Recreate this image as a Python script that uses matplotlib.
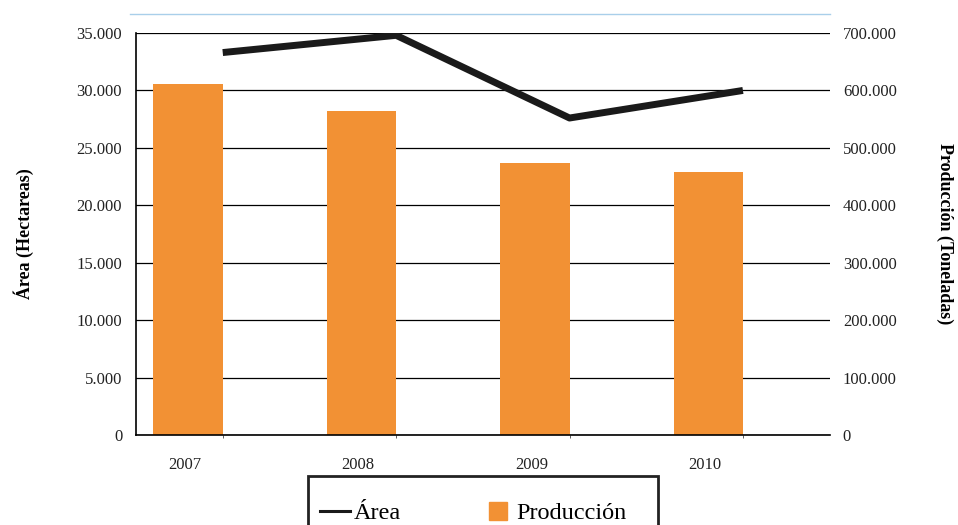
import matplotlib
matplotlib.use("Agg")
import matplotlib.pyplot as plt
from matplotlib.lines import Line2D
from matplotlib.patches import Rectangle
import numpy as np

anios = ["2007", "2008", "2009", "2010"]
area = [33300, 34800, 27600, 30000]            # hectareas (eje izq)
produccion = [611000, 564000, 474000, 458000]  # toneladas (eje der)

naranja = "#F29134"
serif = ["Liberation Serif", "DejaVu Serif"]
plt.rcParams["font.family"] = serif

fig = plt.figure(figsize=(9.58, 5.25), dpi=100)
ax = fig.add_axes([0.142, 0.1714, 0.724, 0.7657])
ax2 = ax.twinx()

x = np.arange(len(anios))

# barras en el eje derecho, por detras de todo
ax2.set_zorder(0)
ax.set_zorder(1)
ax.patch.set_visible(False)

for v in np.arange(0, 700001, 100000):
    ax2.axhline(v, color="black", lw=0.9, zorder=0)
ax2.bar(x, produccion, width=-0.40, align="edge", color=naranja, zorder=2)
ax2.set_ylim(0, 700000)
ax2.set_yticks(np.arange(0, 700001, 100000))
ax2.set_yticklabels(["0" if v == 0 else f"{v:,}".replace(",", ".") for v in np.arange(0, 700001, 100000)],
                    fontsize=12, color="#222222")
ax2.tick_params(axis="y", length=0, pad=9.5)

ax.plot(x, area, color="#1a1a1a", lw=5, solid_capstyle="butt", zorder=3)
ax.set_ylim(0, 35000)
ax.set_xlim(-0.5, 3.5)
ax.set_yticks(np.arange(0, 35001, 5000))
ax.set_yticklabels(["0" if v == 0 else f"{v:,}".replace(",", ".") for v in np.arange(0, 35001, 5000)],
                   fontsize=12, color="#222222")
ax.tick_params(axis="y", length=0, pad=10)

# pequenas marcas en los centros de categoria, etiquetas bajo las barras
ax.set_xticks(x)
ax.set_xticklabels([])
ax.tick_params(axis="x", length=2, width=0.6, direction="out", pad=0, color="#444444")
for xi, lab in zip(x, anios):
    ax.text(xi - 0.22, -0.055, lab, transform=ax.get_xaxis_transform(),
            ha="center", va="top", fontsize=12, color="#222222")

for a in (ax, ax2):
    for s in ("top", "right"):
        a.spines[s].set_visible(False)
ax2.spines["left"].set_visible(False)
ax2.spines["bottom"].set_visible(False)
ax.spines["left"].set_linewidth(1.2)
ax.spines["bottom"].set_linewidth(1.2)

ax.set_ylabel("Área (Hectareas)", fontsize=13, fontweight="bold")
ax.yaxis.set_label_coords(-0.147, 0.5)
ax2.set_ylabel("Producción (Toneladas)", fontsize=13, fontweight="bold", rotation=-90, va="center")
ax2.yaxis.set_label_coords(1.166, 0.5)

# linea celeste superior
fig.add_artist(Line2D([130 / 958, 830 / 958], [1 - 14 / 525, 1 - 14 / 525], color="#A9CFEA", lw=1))

# leyenda: marco recortado por el borde inferior
fig.add_artist(Rectangle((308 / 958, -0.05), 350 / 958, 0.05 + 1 - 476 / 525,
                         transform=fig.transFigure, fill=False, ec="#222222", lw=2))
handles = [Line2D([], [], color="#1a1a1a", lw=2.2),
           Line2D([], [], ls="", marker="s", markersize=13.5, color=naranja)]
leg = fig.legend(handles, ["Área", "Producción"], loc="center left",
                 bbox_to_anchor=(320 / 958, 1 - 513 / 525), ncol=2, frameon=False,
                 fontsize=17.5, handlelength=1.25, handletextpad=0.12,
                 columnspacing=3.4, borderpad=0, borderaxespad=0)

fig.savefig("out.png", dpi=100)
